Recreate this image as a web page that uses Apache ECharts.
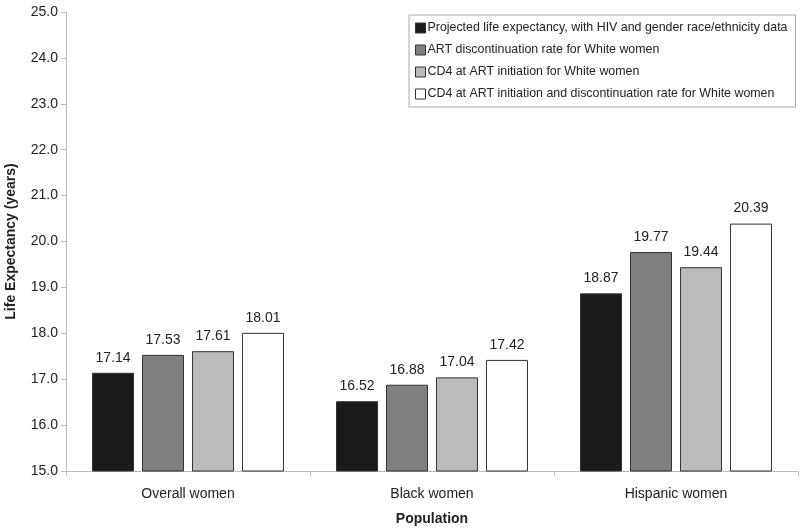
<!DOCTYPE html>
<html><head><meta charset="utf-8">
<script src="https://cdn.jsdelivr.net/npm/echarts@6/dist/echarts.min.js"></script>
<style>html,body{margin:0;padding:0;background:#fff}#c{width:800px;height:529px}</style>
</head><body><div id="c"></div>
<script>
var categories = ['Overall women', 'Black women', 'Hispanic women'];
var seriesNames = [
  'Projected life expectancy, with HIV and gender race/ethnicity data',
  'ART discontinuation rate for White women',
  'CD4 at ART initiation for White women',
  'CD4 at ART initiation and discontinuation rate for White women'
];
var projected = [17.14, 16.52, 18.87];
var artDiscontinuation = [17.53, 16.88, 19.77];
var cd4Initiation = [17.61, 17.04, 19.44];
var cd4AndDiscontinuation = [18.01, 17.42, 20.39];
var colors = ['#1a1a1a', '#808080', '#bbbbbb', '#ffffff'];
var dataSets = [projected, artDiscontinuation, cd4Initiation, cd4AndDiscontinuation];
var font = 'Liberation Sans, Arial, sans-serif';

var series = dataSets.map(function (d, i) {
  return {
    name: seriesNames[i], type: 'bar', data: d, barWidth: 42, barGap: '19%',
    itemStyle: { color: colors[i], borderColor: '#333', borderWidth: 1 },
    label: { show: true, position: 'top', distance: 8, color: '#222', fontSize: 14, fontFamily: font,
      formatter: function (p) { return p.value.toFixed(2); } }
  };
});

var chart = echarts.init(document.getElementById('c'));
chart.setOption({
  animation: false,
  grid: { left: 66, right: 2, top: 12, bottom: 58, containLabel: false, outerBoundsMode: 'none' },
  legend: {
    orient: 'vertical', left: 409, top: 15,
    padding: [6, 8, 6, 6], itemGap: 8, itemWidth: 10, itemHeight: 10, icon: 'rect',
    borderColor: '#aaa', borderWidth: 1,
    textStyle: { fontSize: 12.4, color: '#222', fontFamily: font, padding: [0, 0, 0, -3], lineHeight: 14 },
    data: seriesNames.map(function (n) { return { name: n, itemStyle: { borderColor: '#333', borderWidth: 1 } }; })
  },
  xAxis: {
    type: 'category', data: categories,
    name: 'Population', nameLocation: 'middle', nameGap: 41,
    nameTextStyle: { fontWeight: 'bold', fontSize: 14, color: '#222', fontFamily: font },
    axisLine: { lineStyle: { color: '#bbb' } },
    axisTick: { show: true, length: 5, lineStyle: { color: '#bbb' } },
    axisLabel: { fontSize: 14, color: '#222', margin: 16, fontFamily: font }
  },
  yAxis: {
    type: 'value', min: 15, max: 25, interval: 1,
    name: 'Life Expectancy (years)', nameLocation: 'middle', nameGap: 48, nameRotate: 90,
    nameTextStyle: { fontWeight: 'bold', fontSize: 14, color: '#222', fontFamily: font },
    axisLine: { show: true, lineStyle: { color: '#bbb' } },
    axisTick: { show: true, length: 5, lineStyle: { color: '#bbb' } },
    splitLine: { show: false },
    axisLabel: { fontSize: 14, color: '#222', margin: 8, fontFamily: font,
      formatter: function (v) { return v.toFixed(1); } }
  },
  series: series
});
</script></body></html>
